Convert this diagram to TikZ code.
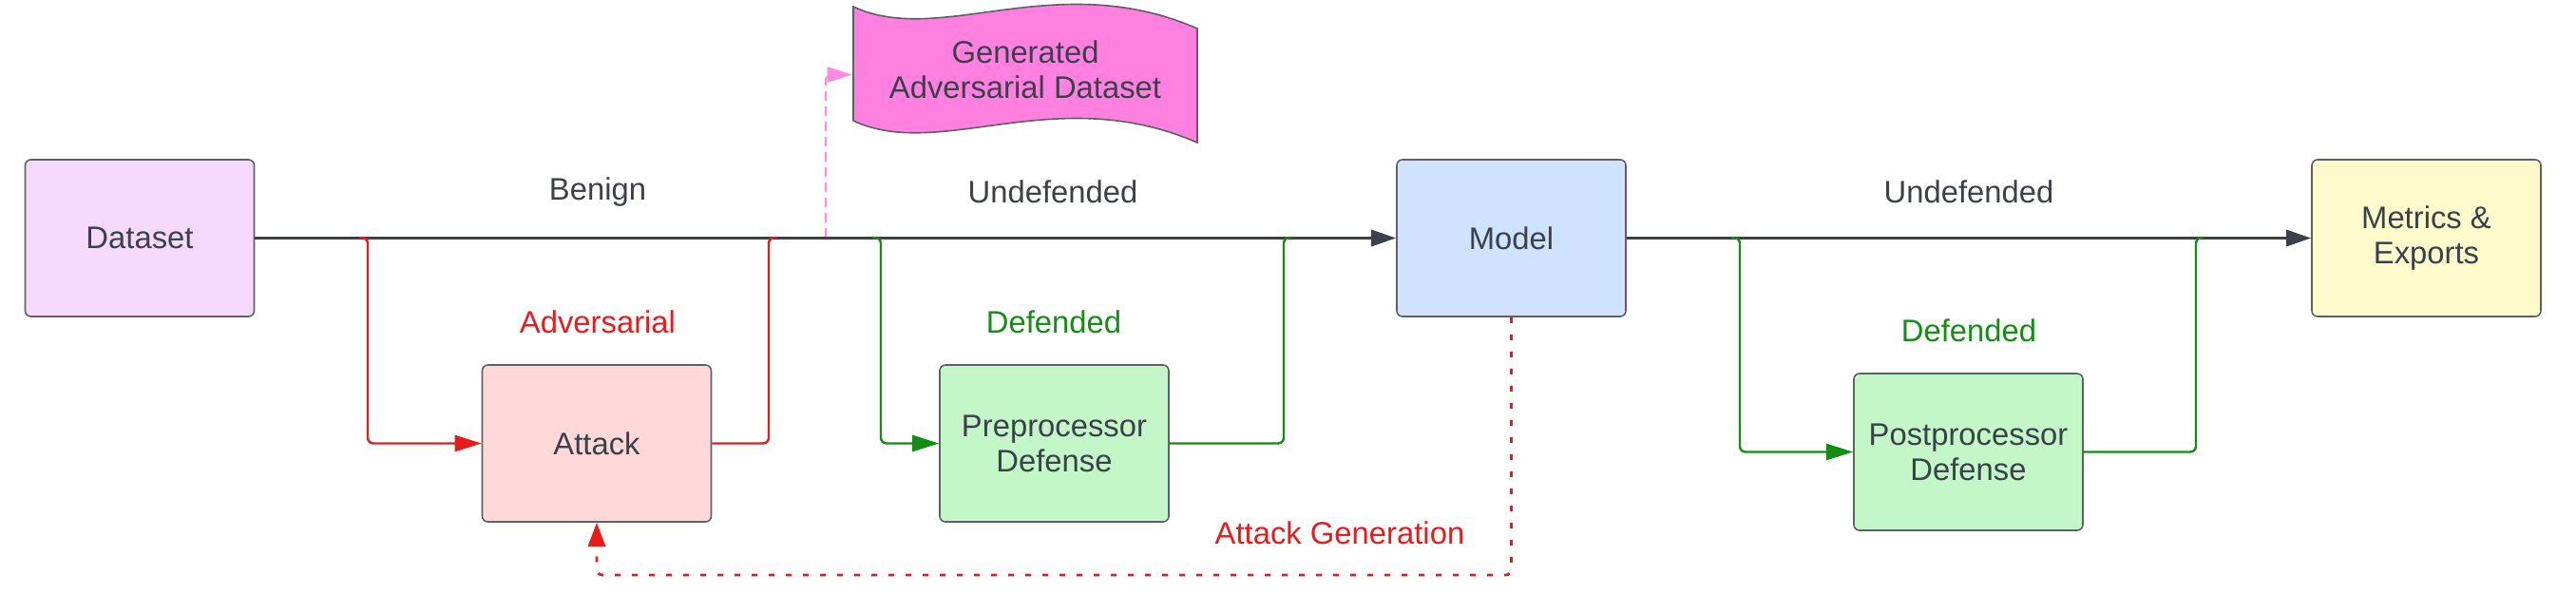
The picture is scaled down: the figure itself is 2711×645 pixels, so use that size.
\documentclass[tikz,border=0pt]{standalone}
\usepackage{fontspec}
\setmainfont{Liberation Sans}
\usetikzlibrary{arrows.meta,calc}
\definecolor{bordergray}{HTML}{5E6066}
\definecolor{txt}{HTML}{3A414A}
\definecolor{lred}{HTML}{E81B1B}
\definecolor{lgreen}{HTML}{138D13}
\definecolor{lpink}{HTML}{FF8ADF}
\definecolor{fdata}{HTML}{F5D9FF}
\definecolor{fattack}{HTML}{FFD9DA}
\definecolor{fgreen}{HTML}{C3F7C8}
\definecolor{fmodel}{HTML}{CFE2FF}
\definecolor{fmetric}{HTML}{FDFBCB}
\definecolor{fgen}{HTML}{FF80DF}
\begin{document}
\begin{tikzpicture}[x=0.5pt,y=-0.5pt,
  txtfont/.style={font=\fontsize{16.4}{18.5}\selectfont},
  box/.style={draw=bordergray, line width=0.8pt, rounded corners=3pt,
    minimum width=120.5pt, minimum height=82.5pt, inner sep=0pt,
    align=center, text=txt, txtfont},
  lbl/.style={inner sep=0pt, txtfont, text=txt},
  mainline/.style={draw=txt, line width=1.6pt, -{Triangle[length=13pt,width=8.5pt]}},
  branch/.style={line width=1.2pt, rounded corners=3pt},
  tipped/.style={-{Triangle[length=14pt,width=8.5pt]}},
]
\useasboundingbox (0,0) rectangle (2711,645);

% nodes
\node[box, fill=fdata]   (data)   at (147,250.5)  {Dataset};
\node[box, fill=fattack] (attack) at (628,466.5)  {Attack};
\node[box, fill=fgreen]  (pre)    at (1109.5,466.5) {Preprocessor\\Defense};
\node[box, fill=fmodel]  (model)  at (1590.5,250.5) {Model};
\node[box, fill=fgreen]  (post)   at (2071.5,475.5) {Postprocessor\\Defense};
\node[box, fill=fmetric] (metric) at (2553.5,250.5) {Metrics \&\\Exports};

% generated dataset (wavy tape)
\filldraw[fill=fgen, draw=bordergray, line width=0.8pt]
  (898,7) .. controls (990,50) and (1110,-35) .. (1260,30)
  -- (1260,150) .. controls (1110,85) and (990,170) .. (898,127) -- cycle;
\node[inner sep=0pt, minimum width=181pt, minimum height=60pt, align=center,
  text=txt, txtfont] (gen) at (1079,73.5) {Generated\\Adversarial Dataset};

% labels
\node[lbl] (lbenign) at (629,202) {Benign};
\node[lbl] (lund1) at (1108,202) {Undefended};
\node[lbl] (lund2) at (2072,202) {Undefended};
\node[lbl, text=lred] (ladv) at (629,339) {Adversarial};
\node[lbl, text=lgreen] (ldef1) at (1109,339) {Defended};
\node[lbl, text=lgreen] (ldef2) at (2072,348) {Defended};
\node[lbl, text=lred] (lgen) at (1410,561) {Attack Generation};

% branch coordinates
\coordinate (ra) at (378,250);  \coordinate (rb) at (387,250);
\coordinate (rc) at (809,250);
\coordinate (ga) at (918,250);  \coordinate (gb) at (927,250);
\coordinate (gc) at (1351,250);
\coordinate (ha) at (1822,250); \coordinate (hb) at (1831,250);
\coordinate (hc) at (2311,250);
\coordinate (pk) at (869,250);
\coordinate (dl) at (0,605);

% pink dashed to generated dataset
\draw[lpink, line width=1pt, dash pattern=on 5pt off 3pt, rounded corners=3pt,
  -{Triangle[length=13pt,width=8pt]}]
  (pk) |- ($(gen.west)+(-1,5)$);

% main lines
\draw[mainline] (data.east) -- (model.west);
\draw[mainline] (model.east) -- (metric.west);

% red attack branch
\draw[lred, branch, tipped] (ra) -- (rb) |- (attack.west);
\draw[lred, branch] (attack.east) -| (rc) -- ++(8,0);

% green preprocessor branch
\draw[lgreen, branch, tipped] (ga) -- (gb) |- (pre.west);
\draw[lgreen, branch] (pre.east) -| (gc) -- ++(8,0);

% green postprocessor branch
\draw[lgreen, branch, tipped] (ha) -- (hb) |- (post.west);
\draw[lgreen, branch] (post.east) -| (hc) -- ++(8,0);

% dotted attack generation
\draw[lred, line width=1.4pt, dash pattern=on 3pt off 6pt, rounded corners=3pt,
  -{Triangle[length=12.5pt,width=9pt]}]
  (model.south) |- (dl -| attack.south) -- (attack.south);
\end{tikzpicture}
\end{document}
